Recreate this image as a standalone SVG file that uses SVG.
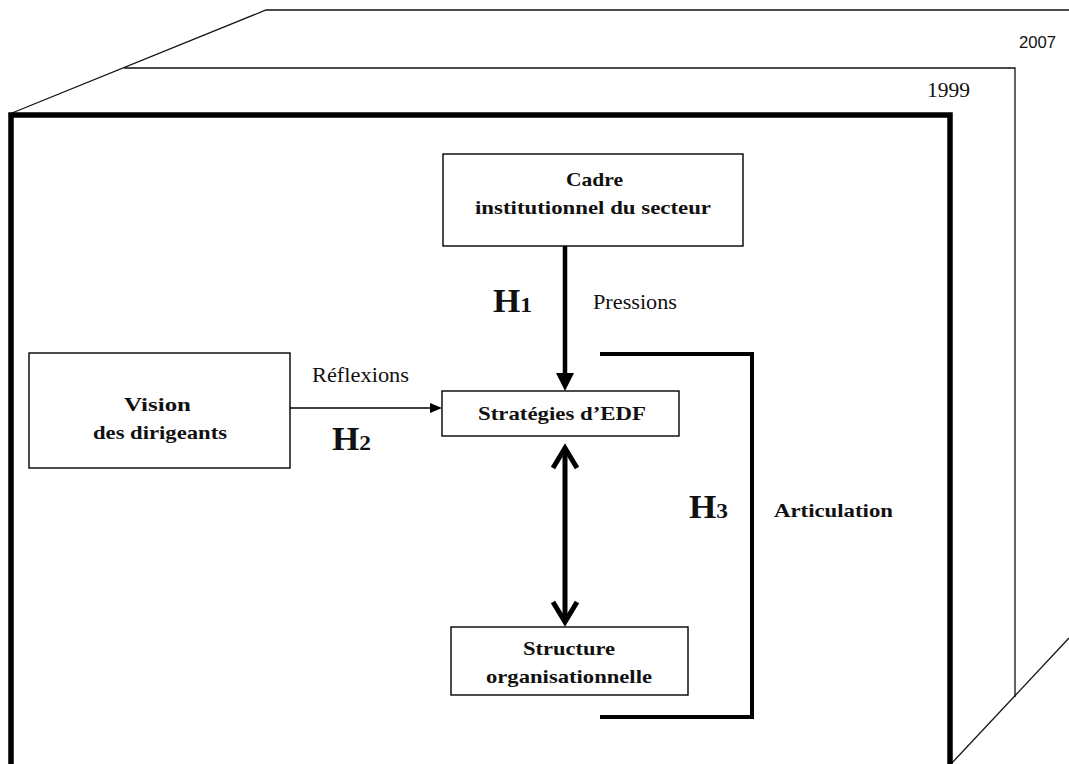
<svg xmlns="http://www.w3.org/2000/svg" width="1069" height="764" viewBox="0 0 1069 764">
<style>
.box{fill:#fff;stroke:#000;stroke-width:1.4}
.thin{fill:none;stroke:#111;stroke-width:1.3}
.b{font-family:"Liberation Serif","Times New Roman",serif;font-weight:bold;font-size:19px;fill:#111;text-anchor:start}
.r{font-family:"Liberation Serif","Times New Roman",serif;font-size:20px;fill:#111}
.h{font-family:"Liberation Serif","Times New Roman",serif;font-weight:bold;font-size:33px;fill:#111}
.s{font-family:"Liberation Sans",Arial,sans-serif;font-size:17px;fill:#111}
</style>
<rect width="1069" height="764" fill="#fff"/>
<g id="frames">
<path class="thin" d="M12,113 L266,10 H1069"/>
<path class="thin" d="M124,68 H1015 V697"/>
<path class="thin" d="M951,764 L1069,638"/>
<path d="M11,770 V115 H950 V770" fill="none" stroke="#000" stroke-width="5.5"/>
<text class="s" x="1019" y="48" textLength="37" lengthAdjust="spacingAndGlyphs">2007</text>
<text class="r" x="927" y="97" font-size="20" textLength="43" lengthAdjust="spacingAndGlyphs">1999</text>
</g>
<g id="connectors">
<line x1="565" y1="246" x2="565" y2="376" stroke="#000" stroke-width="4.5"/>
<polygon points="556,373 574,373 565,391" fill="#000"/>
<line x1="290" y1="408" x2="432" y2="408" stroke="#000" stroke-width="1.3"/>
<polygon points="430,403 442,408 430,413" fill="#000"/>
<line x1="565" y1="449" x2="565" y2="620" stroke="#000" stroke-width="5"/>
<polyline points="553,468 565,448 577,468" fill="none" stroke="#000" stroke-width="5" stroke-linejoin="miter"/>
<polyline points="553,602 565,622 577,602" fill="none" stroke="#000" stroke-width="5" stroke-linejoin="miter"/>
<path d="M600,354 H752 V717 H600" fill="none" stroke="#000" stroke-width="4"/>
<text class="r" x="593" y="309" textLength="84" lengthAdjust="spacingAndGlyphs">Pressions</text>
<text class="r" x="312" y="382" textLength="97" lengthAdjust="spacingAndGlyphs">Réflexions</text>
<text class="h" x="493" y="312" textLength="39" lengthAdjust="spacingAndGlyphs">H<tspan font-size="22">1</tspan></text>
<text class="h" x="332" y="450" textLength="39" lengthAdjust="spacingAndGlyphs">H<tspan font-size="22">2</tspan></text>
<text class="h" x="689" y="518" textLength="39" lengthAdjust="spacingAndGlyphs">H<tspan font-size="22">3</tspan></text>
<text class="b" x="774" y="517" textLength="119" lengthAdjust="spacingAndGlyphs">Articulation</text>
</g>
<g id="cadre">
<rect class="box" x="443" y="154" width="300" height="92"/>
<text class="b" x="566" y="186" textLength="57" lengthAdjust="spacingAndGlyphs">Cadre</text>
<text class="b" x="475" y="214" textLength="236" lengthAdjust="spacingAndGlyphs">institutionnel du secteur</text>
</g>
<g id="vision">
<rect class="box" x="29" y="353" width="261" height="115"/>
<text class="b" x="124" y="411" textLength="67" lengthAdjust="spacingAndGlyphs">Vision</text>
<text class="b" x="93" y="439" textLength="134" lengthAdjust="spacingAndGlyphs">des dirigeants</text>
</g>
<g id="strategies">
<rect class="box" x="442" y="391" width="237" height="45"/>
<text class="b" x="478" y="420" textLength="168" lengthAdjust="spacingAndGlyphs">Stratégies d’EDF</text>
</g>
<g id="structure">
<rect class="box" x="451" y="627" width="237" height="68"/>
<text class="b" x="523" y="655" textLength="92" lengthAdjust="spacingAndGlyphs">Structure</text>
<text class="b" x="486" y="683" textLength="166" lengthAdjust="spacingAndGlyphs">organisationnelle</text>
</g>
</svg>
